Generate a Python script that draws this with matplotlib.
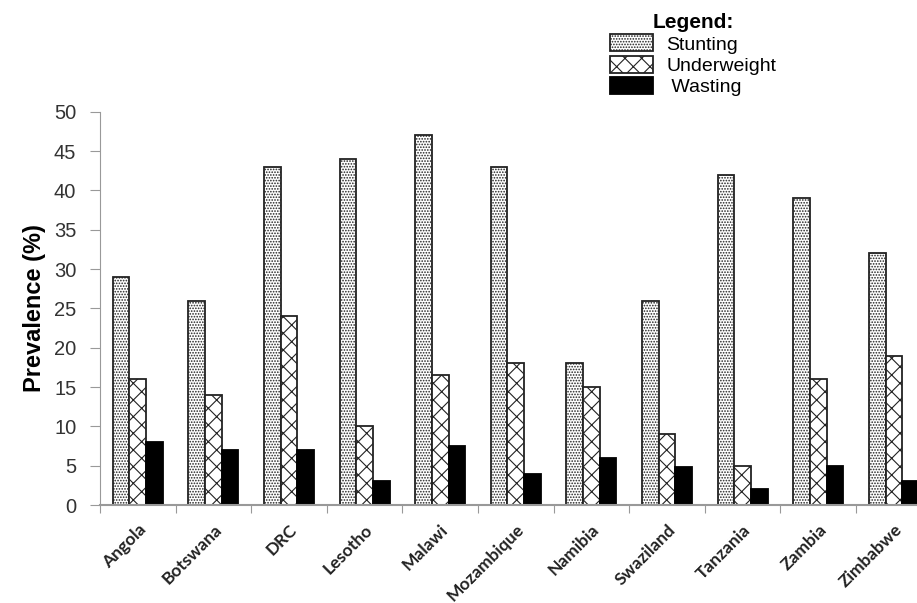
import numpy as np
import matplotlib.pyplot as plt
import matplotlib as mpl

mpl.rcParams["hatch.linewidth"] = 0.8

countries = ["Angola", "Botswana", "DRC", "Lesotho", "Malawi", "Mozambique",
             "Namibia", "Swaziland", "Tanzania", "Zambia", "Zimbabwe"]
stunting = [29, 26, 43, 44, 47, 43, 18, 26, 42, 39, 32]
underweight = [16, 14, 24, 10, 16.5, 18, 15, 9, 5, 16, 19]
wasting = [8, 7, 7, 3, 7.5, 4, 6, 4.8, 2, 5, 3]

fig = plt.figure(figsize=(9.17, 6.03), dpi=100)
ax = fig.add_axes([0.109, 0.1625, 0.907, 0.652])

x = np.arange(len(countries))
w = 0.22
b1 = ax.bar(x - w, stunting, w, color="white", edgecolor="#222222", hatch="......", linewidth=1.3, label="Stunting")
b2 = ax.bar(x, underweight, w, color="white", edgecolor="#222222", hatch="xx", linewidth=1.3, label="Underweight")
b3 = ax.bar(x + w, wasting, w, color="black", edgecolor="black", linewidth=1.3, label=" Wasting")

ax.set_xlim(-0.5, len(countries) - 0.5)
ax.set_ylim(0, 50)
ax.set_yticks(range(0, 51, 5))
ax.set_yticklabels([str(v) for v in range(0, 51, 5)], fontsize=14.5, color="#333333", family="Liberation Sans")
ax.set_xticks(np.arange(len(countries) + 1) - 0.5)
ax.set_xticklabels([])
ax.set_xticks(x, minor=True)
ax.set_xticklabels(countries, minor=True, rotation=45, ha="right", rotation_mode="anchor",
                   fontsize=12.5, fontweight="bold", family="Lato", color="#222222")
ax.tick_params(axis="x", which="minor", length=0, pad=12)
ax.tick_params(axis="x", which="major", length=6, color="#999999", direction="out")
ax.tick_params(axis="y", length=7, color="#999999", direction="out", pad=10)

for s in ["top", "right"]:
    ax.spines[s].set_visible(False)
ax.spines["left"].set_color("#999999")
ax.spines["bottom"].set_color("#999999")
ax.spines["bottom"].set_linewidth(1.5)

ax.set_ylabel("Prevalence (%)", fontsize=17, fontweight="bold", family="Liberation Sans", labelpad=6)

leg = fig.legend(handles=[b1, b2, b3], loc="upper left", bbox_to_anchor=(0.648, 1.004),
                 frameon=False, title="Legend:", handlelength=2.2, handleheight=0.95,
                 labelspacing=0.12, borderpad=0.3, handletextpad=0.7,
                 prop={"family": "Liberation Sans", "size": 14})
leg.get_title().set_fontweight("bold")
leg.get_title().set_fontsize(15)
leg.get_title().set_family("Liberation Sans")

fig.savefig("out.png", dpi=100)
